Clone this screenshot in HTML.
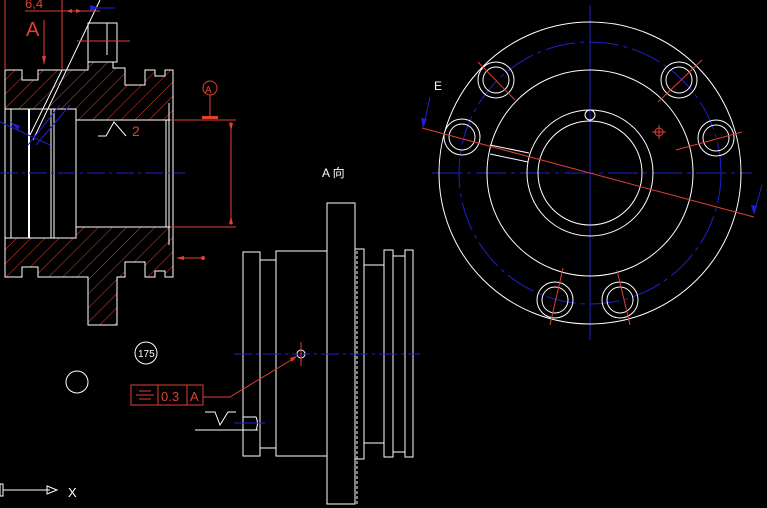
<!DOCTYPE html>
<html><head><meta charset="utf-8"><style>
html,body{margin:0;padding:0;background:#000;overflow:hidden}
svg{display:block}
text{font-family:"Liberation Sans","Noto Sans CJK SC",sans-serif}
</style></head><body>
<svg width="767" height="508" viewBox="0 0 767 508" xmlns="http://www.w3.org/2000/svg">
<defs>
<pattern id="h" patternUnits="userSpaceOnUse" width="10" height="10" patternTransform="rotate(45)">
<line x1="0" y1="0" x2="0" y2="10" stroke="#e0402f" stroke-width="1"/>
</pattern>
</defs>
<rect width="767" height="508" fill="#000"/>

<g fill="none" stroke="#fff" stroke-width="1">
<path d="M5,70 L22,70 L22,80 L38,80 L38,70 L88,70 L88,23 L117,23 L117,60 L113,60 L113,68 L125,68 L125,85 L145,85 L145,70 L155,70 L155,76 L165,76 L165,70 L173,70 L173,120 L76,120 L76,109 L5,109 Z" fill="url(#h)"/>
<path d="M5,238 L76,238 L76,227 L173,227 L173,277 L165,277 L165,271 L155,271 L155,277 L145,277 L145,262 L125,262 L125,277 L117,277 L117,325 L88,325 L88,277 L38,277 L38,267 L22,267 L22,277 L5,277 Z" fill="url(#h)"/>
<rect x="5" y="109" width="71" height="129" fill="#000"/>
<rect x="76" y="120" width="97" height="107" fill="#000"/>
<line x1="5" y1="70" x2="5" y2="277"/>
<line x1="11" y1="109" x2="11" y2="238"/>
<line x1="29" y1="109" x2="29" y2="238" stroke-width="2"/>
<line x1="51" y1="109" x2="51" y2="238"/>
<line x1="54" y1="109" x2="54" y2="238"/>
<line x1="76" y1="109" x2="76" y2="238"/>
<line x1="166" y1="120" x2="166" y2="227"/>
<line x1="169" y1="103" x2="169" y2="245"/>
<rect x="88" y="23" width="29" height="39" fill="#000"/>
<line x1="107" y1="23" x2="107" y2="55"/>
<line x1="100" y1="0" x2="33" y2="140"/>
<line x1="62" y1="70" x2="30" y2="135"/>
</g>
<g stroke="#2020d0" stroke-width="1" fill="none">
<line x1="0" y1="173" x2="185" y2="173" stroke-dasharray="18,4,3,4"/>
<line x1="0" y1="122" x2="50" y2="145"/>
<line x1="60" y1="105" x2="28" y2="145"/>
<line x1="70" y1="105" x2="36" y2="145"/>
<line x1="90" y1="8" x2="115" y2="8"/>
</g>
<polygon points="10,122 20,126 18,130" fill="#2020d0"/>
<polygon points="90,5 100,8 90,11" fill="#2020d0"/>
<g stroke="#e0402f" stroke-width="1" fill="none">
<line x1="5" y1="0" x2="5" y2="70"/>
<line x1="62" y1="0" x2="62" y2="70"/>
<line x1="25" y1="11" x2="100" y2="11"/>
<line x1="44" y1="20" x2="44" y2="64"/>
<line x1="77" y1="41" x2="130" y2="41"/>
<line x1="170" y1="120" x2="236" y2="120"/>
<line x1="170" y1="227" x2="236" y2="227"/>
<line x1="231" y1="122" x2="231" y2="225"/>
<circle cx="210" cy="88" r="7"/>
<line x1="210" y1="95" x2="210" y2="116"/>
<line x1="178" y1="258" x2="203" y2="258"/>
</g>
<text x="25" y="8" font-size="13" fill="#e0402f">6,4</text>
<text x="26" y="36" font-size="20" fill="#e0402f">A</text>
<text x="205" y="93" font-size="10" fill="#e0402f">A</text>
<rect x="202" y="116" width="16" height="3" fill="#e0402f"/>
<polygon points="42,56 46,56 44,65" fill="#e0402f"/>
<polygon points="229,123 233,123 231,131" fill="#e0402f"/>
<polygon points="229,224 233,224 231,216" fill="#e0402f"/>
<polygon points="176,258 184,256 184,260" fill="#e0402f"/>
<circle cx="203" cy="258" r="2" fill="#e0402f"/>
<polygon points="66,11 72,9 72,13" fill="#e0402f"/>
<polygon points="82,11 76,9 76,13" fill="#e0402f"/>
<path d="M98,136 L106,136 L114,122 L126,136" stroke="#fff" fill="none"/>
<text x="132" y="136" font-size="14" fill="#e0402f">2</text>

<text x="322" y="177" font-size="12" fill="#fff">A 向</text>
<g fill="none" stroke="#fff" stroke-width="1">
<rect x="327" y="203" width="28" height="301"/>
<rect x="243" y="252" width="17" height="204"/>
<rect x="260" y="260" width="16" height="188"/>
<rect x="276" y="251" width="51" height="205"/>
<rect x="355" y="249" width="9" height="210"/>
<line x1="357" y1="251" x2="357" y2="504" stroke-dasharray="3,2"/>
<rect x="364" y="265" width="20" height="178"/>
<rect x="384" y="250" width="9" height="207"/>
<rect x="393" y="256" width="12" height="196"/>
<rect x="405" y="250" width="8" height="207"/>
<path d="M243,417 L256,417 Q259,423 256,430 L243,430"/>
<circle cx="301" cy="354" r="4"/>
<circle cx="146" cy="353" r="11"/>
<circle cx="77" cy="382" r="11"/>
<path d="M205,412 L215,412 L220,425 L228,412 L236,412"/>
<line x1="195" y1="430" x2="258" y2="430"/>
<line x1="3" y1="490" x2="50" y2="490"/>
<rect x="0" y="484" width="3" height="12"/>
<polygon points="47,486 57,490 47,494"/>
</g>
<text x="138" y="357" font-size="10" fill="#fff">175</text>
<text x="68" y="497" font-size="13" fill="#fff">X</text>
<g stroke="#2020d0" fill="none">
<line x1="234" y1="354" x2="420" y2="354" stroke-dasharray="18,4,3,4"/>
<line x1="234" y1="423" x2="265" y2="423"/>
</g>
<g stroke="#e0402f" fill="none">
<line x1="301" y1="342" x2="301" y2="366"/>
<rect x="131" y="385" width="72" height="20"/>
<line x1="158" y1="385" x2="158" y2="405"/>
<line x1="187" y1="385" x2="187" y2="405"/>
<line x1="139" y1="391" x2="151" y2="391"/>
<line x1="136" y1="395" x2="154" y2="395"/>
<line x1="139" y1="399" x2="151" y2="399"/>
<polyline points="203,397 230,397 296,357"/>
</g>
<polygon points="297,356 290,358 292,362" fill="#e0402f"/>
<text x="161" y="401" font-size="13" fill="#e0402f">0.3</text>
<text x="190" y="401" font-size="13" fill="#e0402f">A</text>

<g fill="none" stroke="#2020d0" stroke-width="1">
<line x1="590" y1="5" x2="590" y2="340"/>
<line x1="432" y1="173" x2="752" y2="173" stroke-dasharray="30,5,4,5"/>
<circle cx="590" cy="173" r="131" stroke-dasharray="30,5,4,5"/>
</g>
<g fill="none" stroke="#fff" stroke-width="1">
<circle cx="590" cy="173" r="151"/>
<circle cx="590" cy="173" r="103"/>
<circle cx="590" cy="173" r="63"/>
<circle cx="590" cy="173" r="52"/>
<circle cx="590" cy="115" r="5"/>
<circle cx="496" cy="80" r="13"/><circle cx="496" cy="80" r="18"/>
<circle cx="679" cy="80" r="13"/><circle cx="679" cy="80" r="18"/>
<circle cx="462" cy="137" r="13"/><circle cx="462" cy="137" r="18"/>
<circle cx="716" cy="138" r="13"/><circle cx="716" cy="138" r="18"/>
<circle cx="555" cy="300" r="13"/><circle cx="555" cy="300" r="18"/>
<circle cx="620" cy="300" r="13"/><circle cx="620" cy="300" r="18"/>
<line x1="490" y1="145" x2="529" y2="153"/>
<line x1="490" y1="154" x2="528" y2="162"/>
</g>
<g stroke="#e0402f" fill="none">
<line x1="422" y1="128" x2="754" y2="217"/>
<line x1="478" y1="62" x2="515" y2="100"/>
<line x1="658" y1="102" x2="702" y2="60"/>
<line x1="676" y1="150" x2="742" y2="132"/>
<line x1="550" y1="325" x2="563" y2="268"/>
<line x1="630" y1="325" x2="617" y2="270"/>
<circle cx="659" cy="132" r="4"/>
<line x1="652" y1="132" x2="666" y2="132"/>
<line x1="659" y1="125" x2="659" y2="139"/>
</g>
<g stroke="#2020d0"><line x1="430" y1="97" x2="424" y2="125"/><line x1="762" y1="185" x2="754" y2="213"/></g>
<polygon points="421,118 427,119 423,128" fill="#2020d0"/>
<polygon points="751,205 757,206 754,215" fill="#2020d0"/>
<text x="434" y="90" font-size="12" fill="#fff">E</text>
</svg>
</body></html>
